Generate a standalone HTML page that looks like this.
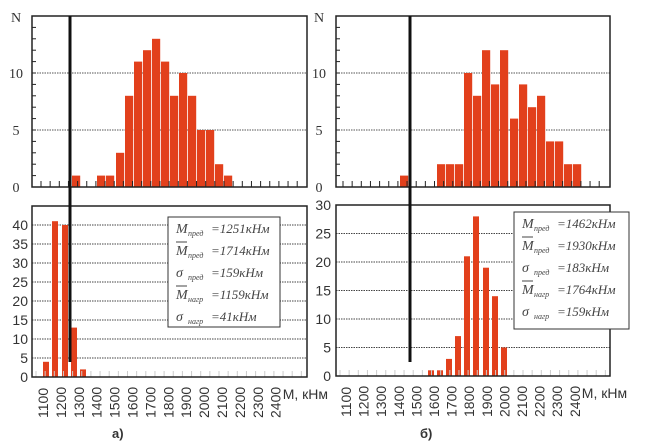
<!DOCTYPE html>
<html><head><meta charset="utf-8"><style>
html,body{margin:0;padding:0;background:#fff;width:646px;height:446px;overflow:hidden}
</style></head><body>
<svg id="s" width="646" height="446" xmlns="http://www.w3.org/2000/svg" font-family="Liberation Sans, sans-serif"></svg>
<script>
const s=document.getElementById('s');let h='';
const R='#e2401c';
function topPlot(x0,x1,labX,bars,firstTick){
  const y0=187,yt=16,u=11.4;
  [5,10].forEach(v=>{h+=`<line x1="${x0}" x2="${x1}" y1="${y0-v*u}" y2="${y0-v*u}" stroke="#555" stroke-dasharray="1.5,1" stroke-width="1"/>`});
  bars.forEach(b=>{h+=`<rect x="${b[0]}" y="${y0-b[1]*u}" width="8.2" height="${b[1]*u}" fill="${R}"/>`});
  for(let v=1;v<15;v++) h+=`<line x1="${x0}" x2="${x0+4}" y1="${y0-v*u}" y2="${y0-v*u}" stroke="#222"/>`;
  for(let x=firstTick;x<x1-3;x+=9.15) h+=`<line x1="${x}" x2="${x}" y1="${y0}" y2="${y0-6}" stroke="#222"/>`;
  h+=`<rect x="${x0}" y="${yt}" width="${x1-x0}" height="${y0-yt}" fill="none" stroke="#222" stroke-width="1.5"/>`;
  h+=`<g font-family="Liberation Serif, serif" font-size="14" fill="#333" text-anchor="middle"><text x="${labX}" y="22">N</text><text x="${labX}" y="${y0-10*u+5}">10</text><text x="${labX}" y="${y0-5*u+5}">5</text><text x="${labX}" y="${y0+5}">0</text></g>`;
}
topPlot(32,307,16,[[72,1],[97,1],[106,1],[116,3],[125,8],[134,11],[143,12],[152,13],[161,11],[170,8],[179,10],[188,8],[197,5],[206,5],[215,2],[224,1]],41);
topPlot(336,610,319,[[400,1],[437,2],[446,2],[455,2],[464,10],[473,8],[482,12],[491,9],[500,12],[510,6],[519,9],[528,7],[537,8],[546,4],[555,4],[564,2],[573,2]],343);
function botPlot(x0,x1,yt,y0,step,maxv,labX,bars,lab0,lstep,leg,vals){
  for(let v=step;v<=maxv;v+=step){const y=y0-v*(y0-yt)/maxv;
    if(v<maxv) h+=`<line x1="${x0}" x2="${x1}" y1="${y}" y2="${y}" stroke="#444" stroke-dasharray="1.5,1"/>`;}
  bars.forEach(b=>{h+=`<rect x="${b[0]}" y="${y0-b[1]*(y0-yt)/maxv}" width="6" height="${b[1]*(y0-yt)/maxv}" fill="${R}"/>`});
  for(let i=0;i<30;i++){const x=x0+4+i*9.15;if(x>x1-2)break;h+=`<line x1="${x}" x2="${x}" y1="${y0}" y2="${y0-6}" stroke="#ccc"/>`;}
  h+=`<rect x="${x0}" y="${yt}" width="${x1-x0}" height="${y0-yt}" fill="none" stroke="#222" stroke-width="1.5"/>`;
  h+=`<g font-size="14" fill="#333" text-anchor="end">`;
  for(let v=0;v<=maxv;v+=5){if(v>40)break;h+=`<text x="${labX}" y="${y0-v*(y0-yt)/maxv+5}">${v}</text>`;}
  h+=`</g>`;
  for(let i=0;i<14;i++){const x=lab0+i*lstep;h+=`<text font-size="14" fill="#333" transform="translate(${x+5},${y0+41}) rotate(-90)">${1100+i*100}</text>`;}
  h+=`<text x="${lab0+13*lstep+7}" y="${y0+22}" font-size="14" fill="#333">M, кНм</text>`;
  h+=`<rect x="${leg[0]}" y="${leg[1]}" width="${leg[2]}" height="${leg[3]}" fill="#fff" stroke="#333"/>`;
  const names=[['M',0,'пред'],['M',1,'пред'],['σ',0,'пред'],['M',1,'нагр'],['σ',0,'нагр']];
  names.forEach((n,i)=>{const y=leg[1]+16+i*22,x=leg[0]+8;
    h+=`<g font-family="Liberation Serif, serif" font-style="italic" fill="#444"><text x="${x}" y="${y}" font-size="14">${n[0]}</text><text x="${x+12}" y="${y+3}" font-size="8">${n[2]}</text><text x="${x+35}" y="${y}" font-size="13">=${vals[i]}кНм</text></g>`;
    if(n[1]) h+=`<line x1="${x}" x2="${x+11}" y1="${y-13}" y2="${y-13}" stroke="#444"/>`;});
}
botPlot(32,307,206,377,5,45,28,[[43,4],[52,41],[62,40],[71,13],[80,2]],43,17.9,[168,217,112,110],['1251','1714','159','1159','41']);
botPlot(336,610,205,376,5,30,331,[[428,1],[437,1],[446,3],[455,7],[464,21],[473,28],[483,19],[492,14],[501,5]],346,17.6,[514,212,115,117],['1462','1930','183','1764','159']);
h+=`<line x1="70" x2="70" y1="16" y2="362" stroke="#111" stroke-width="3"/>`;
h+=`<line x1="410" x2="410" y1="16" y2="362" stroke="#111" stroke-width="3"/>`;
h+=`<text x="112" y="438" font-size="13" font-weight="bold" fill="#333">а)</text>`;
h+=`<text x="420" y="438" font-size="13" font-weight="bold" fill="#333">б)</text>`;
s.innerHTML=h;
</script>
</body></html>
